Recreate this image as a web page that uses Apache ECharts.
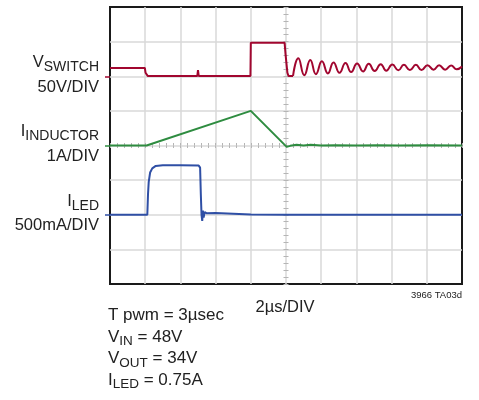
<!DOCTYPE html>
<html>
<head>
<meta charset="utf-8">
<script src="https://cdn.jsdelivr.net/npm/echarts@6/dist/echarts.min.js"></script>
<style>
  html, body { margin: 0; padding: 0; background: #fff; }
  #chart { width: 479px; height: 400px; }
</style>
</head>
<body>
<div id="chart"></div>
<script>
// scope screen in divisions: 10 across, 8 high
var xDivs = [0, 10];
var yDivs = [0, 8];

// ground level of each trace (division)
var groundSwitch = 6;
var groundInductor = 4;
var groundLed = 2;

// V SWITCH, square part
var vSwitch = [
  [0, 6.24], [0.99, 6.24], [1.01, 6.1], [1.05, 6.12], [1.07, 6.01],
  [2.48, 6.01], [2.5, 6.18], [2.52, 6.01],
  [3.99, 6.01], [4.0, 6.97], [4.96, 6.97], [4.99, 6.6], [5.04, 6.1], [5.07, 6.01], [5.2, 6.01]
];
// V SWITCH, ringing after turn off
var vSwitchRing = [
  [5.2, 6.01], [5.35, 6.52], [5.52, 6.03], [5.69, 6.47], [5.85, 6.06],
  [6.02, 6.43], [6.19, 6.08], [6.35, 6.40], [6.52, 6.10], [6.69, 6.38],
  [6.85, 6.12], [7.02, 6.37], [7.19, 6.14], [7.35, 6.36], [7.52, 6.15],
  [7.69, 6.35], [7.85, 6.16], [8.02, 6.34], [8.19, 6.17], [8.35, 6.33],
  [8.52, 6.18], [8.69, 6.33], [8.85, 6.18], [9.02, 6.32], [9.19, 6.19],
  [9.35, 6.32], [9.52, 6.19], [9.69, 6.31], [9.85, 6.20], [10, 6.28]
];
// I INDUCTOR
var iInductor = [
  [0, 4.0], [1.04, 4.0], [4.0, 5.0], [5.02, 3.96], [5.12, 3.99],
  [5.3, 4.02], [5.5, 4.0], [5.7, 4.02], [6.0, 4.0], [6.4, 4.01],
  [7.0, 4.0], [7.6, 4.01], [8.2, 4.0], [9.0, 4.01], [10, 4.0]
];
// I LED
var iLed = [
  [0, 2.0], [1.06, 2.0], [1.08, 2.6], [1.1, 2.95], [1.14, 3.22],
  [1.2, 3.34], [1.3, 3.41], [1.5, 3.43], [2.0, 3.43], [2.52, 3.42],
  [2.56, 3.36], [2.58, 2.6], [2.6, 2.0], [2.62, 1.82], [2.64, 2.12],
  [2.66, 1.92], [2.69, 2.08], [2.75, 2.04], [3.0, 2.05], [3.5, 2.03],
  [4.0, 2.01], [5.0, 2.0], [10, 2.0]
];

var cRed = '#a1062f';
var cGreen = '#2e8c40';
var cBlue = '#2f4fa5';
var cGrid = '#d8d8d8';
var cTick = '#b5b5b5';
var font = 'Liberation Sans';

var chart = echarts.init(document.getElementById('chart'), null, {renderer: 'canvas'});

function centerX(inside) {
  return {
    type: 'value', gridIndex: 0, min: xDivs[0], max: xDivs[1], interval: 0.2,
    position: 'bottom', offset: -138.5,
    axisLine: {show: false},
    axisTick: {show: true, inside: inside, length: 2.5, lineStyle: {color: cTick, width: 1}},
    axisLabel: {show: false}, splitLine: {show: false}
  };
}
function centerY(inside) {
  return {
    type: 'value', gridIndex: 0, min: yDivs[0], max: yDivs[1], interval: 0.2,
    position: 'left', offset: -176,
    axisLine: {show: false},
    axisTick: {show: true, inside: inside, length: 2.5, lineStyle: {color: cTick, width: 1}},
    axisLabel: {show: false}, splitLine: {show: false}
  };
}
function groundMark(level, color) {
  return {
    type: 'value', gridIndex: 0, min: yDivs[0], max: yDivs[1], interval: 1,
    position: 'left',
    axisLine: {show: false},
    axisTick: {show: true, customValues: [level], length: 5, lineStyle: {color: color, width: 1.5}},
    axisLabel: {show: false}, splitLine: {show: false}
  };
}

var sub = {
  m: {fontSize: 16.5, fontFamily: font, color: '#222', lineHeight: 22, verticalAlign: 'top'},
  s: {fontSize: 14, fontFamily: font, color: '#222', lineHeight: 14, padding: [6, 0, 0, 0], verticalAlign: 'top'}
};
var sub2 = {
  m: {fontSize: 17, fontFamily: font, color: '#222', lineHeight: 21.5, verticalAlign: 'top'},
  s: {fontSize: 13.5, fontFamily: font, color: '#222', lineHeight: 13.5, padding: [6, 0, 0, 0], verticalAlign: 'top'}
};

function leftLabel(y, text, rich) {
  return {
    type: 'text', x: 99, y: y,
    style: {text: text, rich: rich, align: 'right', verticalAlign: 'middle',
      fontFamily: font, fontSize: 16.5, fill: '#222'}
  };
}

var option = {
  animation: false,
  backgroundColor: '#fff',
  grid: {left: 110, top: 7, width: 352, height: 277, show: true,
    borderColor: '#1a1a1a', borderWidth: 2, backgroundColor: 'transparent'},
  xAxis: [
    {
      type: 'value', min: xDivs[0], max: xDivs[1], interval: 1,
      axisLine: {show: false}, axisTick: {show: false}, axisLabel: {show: false},
      splitLine: {show: true, showMinLine: false, showMaxLine: false,
        lineStyle: {color: cGrid, width: 1.5}}
    },
    centerX(true),
    centerX(false)
  ],
  yAxis: [
    {
      type: 'value', min: yDivs[0], max: yDivs[1], interval: 1,
      axisLine: {show: false}, axisTick: {show: false}, axisLabel: {show: false},
      splitLine: {show: true, showMinLine: false, showMaxLine: false,
        lineStyle: {color: cGrid, width: 1.5}}
    },
    centerY(true),
    centerY(false),
    groundMark(groundSwitch, cRed),
    groundMark(groundInductor, cGreen),
    groundMark(groundLed, cBlue)
  ],
  series: [
    {type: 'line', name: 'VSWITCH', data: vSwitch, symbol: 'none',
      lineStyle: {color: cRed, width: 2}, z: 5},
    {type: 'line', name: 'VSWITCH ring', data: vSwitchRing, symbol: 'none', smooth: 0.5,
      lineStyle: {color: cRed, width: 2}, z: 5},
    {type: 'line', name: 'IINDUCTOR', data: iInductor, symbol: 'none',
      lineStyle: {color: cGreen, width: 2}, z: 4},
    {type: 'line', name: 'ILED', data: iLed, symbol: 'none',
      lineStyle: {color: cBlue, width: 2}, z: 3}
  ],
  graphic: [
    leftLabel(65, '{m|V}{s|SWITCH}', sub),
    leftLabel(87, '50V/DIV', null),
    leftLabel(134, '{m|I}{s|INDUCTOR}', sub),
    leftLabel(156, '1A/DIV', null),
    leftLabel(204, '{m|I}{s|LED}', sub),
    leftLabel(225, '500mA/DIV', null),
    {
      type: 'text', x: 285, y: 307,
      style: {text: '2µs/DIV', align: 'center', verticalAlign: 'middle',
        fontFamily: font, fontSize: 16.5, fill: '#222'}
    },
    {
      type: 'text', x: 462, y: 295,
      style: {text: '3966 TA03d', align: 'right', verticalAlign: 'middle',
        fontFamily: font, fontSize: 9.5, fill: '#222'}
    },
    {
      type: 'text', x: 108, y: 307,
      style: {
        text: '{m|T pwm = 3µsec}\n{m|V}{s|IN}{m| = 48V}\n{m|V}{s|OUT}{m| = 34V}\n{m|I}{s|LED}{m| = 0.75A}',
        rich: sub2, align: 'left', verticalAlign: 'top', fill: '#222'
      }
    }
  ]
};

chart.setOption(option);
</script>
</body>
</html>
